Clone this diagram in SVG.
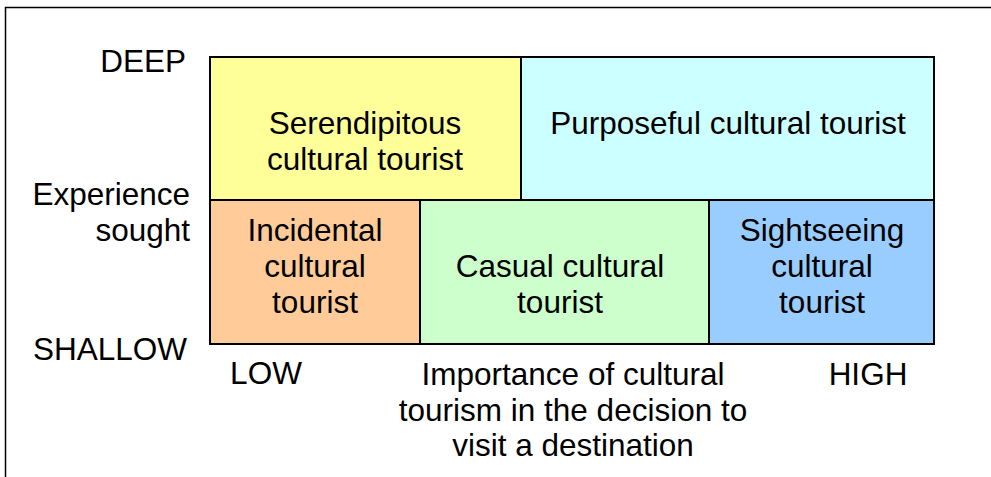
<svg xmlns="http://www.w3.org/2000/svg" width="991" height="477" viewBox="0 0 991 477">
<style>
text{font-family:"Liberation Sans",Arial,sans-serif;font-size:31.5px;fill:#000}
.c{text-anchor:middle}
.r{text-anchor:end}
.box{stroke:#000;stroke-width:2}
</style>
<rect x="0" y="0" width="991" height="477" fill="#fff"/>
<path d="M5.5,477 V7.5 H991" fill="none" stroke="#000" stroke-width="1.5"/>
<g id="serendipitous">
<rect class="box" x="210" y="57" width="311" height="143" fill="#FFFF99"/>
<text class="c" x="365" y="134">Serendipitous</text>
<text class="c" x="365" y="170">cultural tourist</text>
</g>
<g id="purposeful">
<rect class="box" x="521" y="57" width="413" height="143" fill="#CCFFFF"/>
<text class="c" x="728" y="134">Purposeful cultural tourist</text>
</g>
<g id="incidental">
<rect class="box" x="210" y="200" width="210" height="144" fill="#FFCC99"/>
<text class="c" x="315" y="241">Incidental</text>
<text class="c" x="315" y="277">cultural</text>
<text class="c" x="315" y="313">tourist</text>
</g>
<g id="casual">
<rect class="box" x="420" y="200" width="289" height="144" fill="#CCFFCC"/>
<text class="c" x="560" y="277">Casual cultural</text>
<text class="c" x="560" y="313">tourist</text>
</g>
<g id="sightseeing">
<rect class="box" x="709" y="200" width="225" height="144" fill="#99CCFF"/>
<text class="c" x="822" y="241">Sightseeing</text>
<text class="c" x="822" y="277">cultural</text>
<text class="c" x="822" y="313">tourist</text>
</g>
<g id="connectors"></g>
<g id="axis-labels">
<text class="r" x="186" y="72">DEEP</text>
<text class="r" x="190" y="205">Experience</text>
<text class="r" x="190" y="241">sought</text>
<text class="r" x="187" y="360">SHALLOW</text>
<text class="c" x="266" y="384">LOW</text>
<text class="c" x="573" y="385">Importance of cultural</text>
<text class="c" x="573" y="421">tourism in the decision to</text>
<text class="c" x="573" y="456">visit a destination</text>
<text class="c" x="868" y="385">HIGH</text>
</g>
</svg>
